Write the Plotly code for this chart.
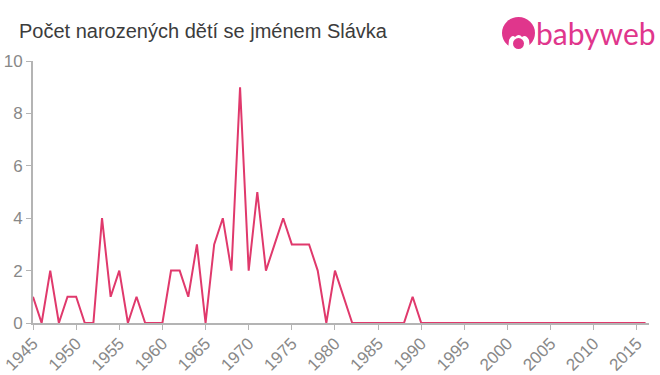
import plotly.graph_objects as go

years = list(range(1945, 2017))
head = [1, 0, 2, 0, 1, 1, 0, 0, 4, 1, 2, 0, 1, 0, 0, 0, 2, 2, 1, 3, 0, 3, 4, 2, 9, 2, 5, 2, 3, 4, 3, 3, 3, 2, 0, 2, 1, 0,
        0, 0, 0, 0, 0, 0, 1, 0]
counts = head + [0] * (len(years) - len(head))
tick_years = list(range(1945, 2016, 5))
y_ticks = [0, 2, 4, 6, 8, 10]
title = "Počet narozených dětí se jménem Slávka"
brand = "babyweb"

W, H = 660, 375
L, R, T, B = 33, 11, 61, 51.5
PW, PH = W - L - R, H - T - B


def px(x):
    return (x - L) / PW


def py(y):
    return 1 - (y - T) / PH


PINK = "#e0368c"
shapes = [
    dict(type="circle", xref="paper", yref="paper", x0=px(502), x1=px(535), y0=py(49), y1=py(17),
         fillcolor=PINK, line_width=0, layer="above"),
    dict(type="path", xref="paper", yref="paper",
         path=(f"M {px(508)} {py(50)} L {px(509)} {py(40)} Q {px(512)} {py(34)} {px(515)} {py(37)} "
               f"Q {px(519)} {py(33)} {px(522)} {py(37)} Q {px(526)} {py(34)} {px(529)} {py(40)} "
               f"L {px(530)} {py(50)} Z"),
         fillcolor="white", line_width=0, layer="above"),
    dict(type="circle", xref="paper", yref="paper", x0=px(513), x1=px(524), y0=py(49), y1=py(38),
         fillcolor=PINK, line_width=0, layer="above"),
]

fig = go.Figure(go.Scatter(x=years, y=counts, mode="lines",
                           line=dict(color="#e0396c", width=2, shape="linear"),
                           hoverinfo="skip", cliponaxis=False))
fig.update_layout(
    width=W, height=H, autosize=False,
    margin=dict(l=L, r=R, t=T, b=B, pad=0, autoexpand=False),
    paper_bgcolor="white", plot_bgcolor="white",
    showlegend=False,
    font=dict(family="Liberation Sans, Arial, sans-serif"),
    shapes=shapes,
    annotations=[
        dict(text=title, xref="paper", yref="paper", x=px(20), y=py(30.5), xanchor="left", yanchor="middle",
             showarrow=False, xshift=-3, font=dict(size=20, color="#3c3c3c")),
        dict(text=brand, xref="paper", yref="paper", x=px(537), y=py(33), xanchor="left", yanchor="middle",
             showarrow=False, xshift=-3, font=dict(family="Lato, sans-serif", size=30, color=PINK)),
    ],
)
fig.update_xaxes(range=[1945, 2016.4], tickmode="array", tickvals=tick_years,
                 ticktext=[str(y) for y in tick_years], tickangle=-45, automargin=False,
                 ticklabelstandoff=-3,
                 showgrid=False, zeroline=False, showline=True, linecolor="#b4b4b4", linewidth=2,
                 ticks="outside", ticklen=5, tickwidth=1, tickcolor="#b4b4b4",
                 tickfont=dict(size=17, color="#888888"))
fig.update_yaxes(range=[0, 10], tickmode="array", tickvals=y_ticks, automargin=False,
                 showgrid=False, zeroline=False, showline=True, linecolor="#b4b4b4", linewidth=2,
                 ticks="outside", ticklen=5, tickwidth=1, tickcolor="#b4b4b4",
                 tickfont=dict(size=17, color="#888888"))
fig.write_html("out.html", post_script="document.body.style.margin='0';",
               config=dict(displayModeBar=False))
